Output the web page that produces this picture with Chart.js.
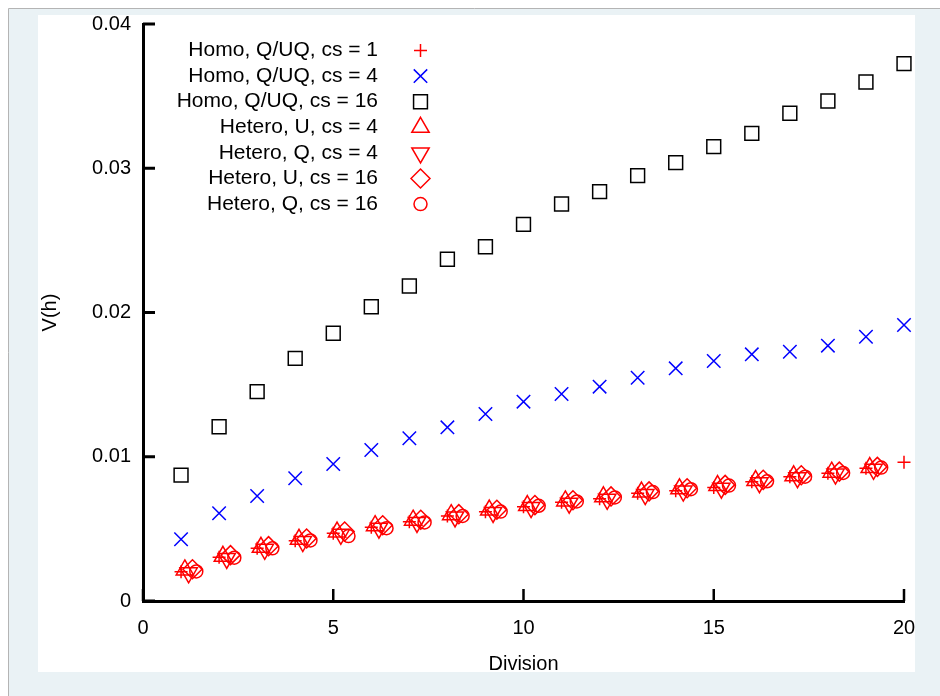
<!DOCTYPE html>
<html>
<head>
<meta charset="utf-8">
<script src="https://cdn.jsdelivr.net/npm/chart.js@4/dist/chart.umd.min.js"></script>
<style>
  html, body { margin: 0; padding: 0; background: #fff; }
  #wrap { width: 940px; height: 696px; }
</style>
</head>
<body>
<div id="wrap"><canvas id="chart" width="940" height="696"></canvas></div>
<script>
"use strict";

// divisions 1..20
const divisions = [1, 2, 3, 4, 5, 6, 7, 8, 9, 10, 11, 12, 13, 14, 15, 16, 17, 18, 19, 20];
const heteroDivisions = [1, 2, 3, 4, 5, 6, 7, 8, 9, 10, 11, 12, 13, 14, 15, 16, 17, 18, 19];

const homoCs1 = [0.00203, 0.00303, 0.00365, 0.00418, 0.00469, 0.00511, 0.00550, 0.00589, 0.00619, 0.00654,
  0.00684, 0.00709, 0.00747, 0.00765, 0.00786, 0.00827, 0.00862, 0.00885, 0.00920, 0.00962];
const homoCs4 = [0.00428, 0.00608, 0.00728, 0.00851, 0.00950, 0.01047, 0.01128, 0.01204, 0.01296, 0.01382,
  0.01435, 0.01486, 0.01548, 0.01613, 0.01664, 0.01710, 0.01728, 0.01770, 0.01832, 0.01913];
const homoCs16 = [0.00873, 0.01208, 0.01451, 0.01682, 0.01856, 0.02040, 0.02184, 0.02369, 0.02456, 0.02611,
  0.02752, 0.02838, 0.02949, 0.03039, 0.03150, 0.03242, 0.03381, 0.03466, 0.03598, 0.03725];
const heteroUCs4 = [0.00215, 0.00310, 0.00372, 0.00428, 0.00478, 0.00522, 0.00560, 0.00598, 0.00630, 0.00662,
  0.00694, 0.00722, 0.00755, 0.00778, 0.00800, 0.00835, 0.00868, 0.00893, 0.00925];
const heteroQCs4 = [0.00195, 0.00295, 0.00358, 0.00412, 0.00462, 0.00505, 0.00545, 0.00583, 0.00614, 0.00648,
  0.00678, 0.00705, 0.00738, 0.00762, 0.00782, 0.00820, 0.00855, 0.00880, 0.00913];
const heteroUCs16 = [0.00220, 0.00318, 0.00380, 0.00433, 0.00482, 0.00525, 0.00563, 0.00602, 0.00633, 0.00665,
  0.00698, 0.00725, 0.00760, 0.00782, 0.00805, 0.00840, 0.00872, 0.00897, 0.00930];
const heteroQCs16 = [0.00205, 0.00300, 0.00365, 0.00420, 0.00450, 0.00505, 0.00545, 0.00590, 0.00620, 0.00660,
  0.00690, 0.00718, 0.00755, 0.00775, 0.00800, 0.00830, 0.00862, 0.00888, 0.00925];

// small sideways shift the hetero runs were plotted with
const heteroShift = [0.1, 0.2, 0.3, 0.4];

const xTickLabels = ["0", "5", "10", "15", "20"];
const yTickLabels = ["0", "0.01", "0.02", "0.03", "0.04"];

const FONT = '"Liberation Sans", Arial, sans-serif';

function points(xs, ys, shift) {
  return ys.map((v, i) => ({ x: xs[i] + (shift || 0), y: v }));
}

function series(label, data, style, color, radius, rotation) {
  return {
    label: label,
    data: data,
    showLine: false,
    clip: false,
    pointStyle: style,
    pointRotation: rotation || 0,
    pointRadius: radius,
    pointHoverRadius: radius,
    pointBorderWidth: 1.5,
    pointBorderColor: color,
    borderColor: color,
    pointBackgroundColor: "rgba(0,0,0,0)",
    backgroundColor: "rgba(0,0,0,0)",
  };
}

const backdrop = {
  id: "backdrop",
  beforeDraw(chart) {
    const ctx = chart.ctx;
    ctx.save();
    ctx.fillStyle = "#ffffff";
    ctx.fillRect(0, 0, 940, 696);
    ctx.fillStyle = "#eaf2f5";
    ctx.fillRect(9, 9, 931, 687);
    ctx.strokeStyle = "#b4b4b4";
    ctx.lineWidth = 1;
    ctx.beginPath();
    ctx.moveTo(8.5, 696);
    ctx.lineTo(8.5, 8.5);
    ctx.lineTo(940, 8.5);
    ctx.stroke();
    ctx.fillStyle = "#ffffff";
    ctx.fillRect(38, 15, 877, 657);
    ctx.restore();
  },
};

const inwardTicks = {
  id: "inwardTicks",
  afterDatasetsDraw(chart) {
    const { ctx, chartArea } = chart;
    const xs = chart.scales.x;
    const ys = chart.scales.y;
    ctx.save();
    ctx.strokeStyle = "#000";
    ctx.lineWidth = 3;
    ctx.beginPath();
    ys.ticks.forEach((t) => {
      const py = ys.getPixelForValue(t.value);
      ctx.moveTo(chartArea.left, py);
      ctx.lineTo(chartArea.left + 12, py);
    });
    ctx.stroke();
    ctx.lineWidth = 2.5;
    ctx.beginPath();
    xs.ticks.forEach((t) => {
      const px = xs.getPixelForValue(t.value);
      ctx.moveTo(px, chartArea.bottom);
      ctx.lineTo(px, chartArea.bottom - 12);
    });
    ctx.stroke();
    ctx.restore();
  },
};

const keyBox = {
  id: "keyBox",
  afterDraw(chart) {
    const ctx = chart.ctx;
    ctx.save();
    ctx.font = "21px " + FONT;
    ctx.textAlign = "right";
    ctx.textBaseline = "middle";
    chart.data.datasets.forEach((ds, i) => {
      const yy = 50.5 + i * 25.6;
      ctx.fillStyle = "#000";
      ctx.fillText(ds.label, 378, yy);
      ctx.strokeStyle = ds.pointBorderColor;
      ctx.fillStyle = "rgba(0,0,0,0)";
      ctx.lineWidth = ds.pointBorderWidth;
      Chart.helpers.drawPoint(ctx, {
        pointStyle: ds.pointStyle,
        rotation: ds.pointRotation,
        radius: ds.pointRadius,
        borderWidth: ds.pointBorderWidth,
      }, 420.5, yy);
    });
    ctx.restore();
  },
};

new Chart(document.getElementById("chart"), {
  type: "scatter",
  data: {
    datasets: [
      series("Homo, Q/UQ, cs = 1", points(divisions, homoCs1), "cross", "#ff0000", 6.5),
      series("Homo, Q/UQ, cs = 4", points(divisions, homoCs4), "crossRot", "#0000ff", 9.5),
      series("Homo, Q/UQ, cs = 16", points(divisions, homoCs16), "rect", "#000000", 9.8),
      series("Hetero, U, cs = 4", points(heteroDivisions, heteroUCs4, heteroShift[0]), "triangle", "#ff0000", 10),
      series("Hetero, Q, cs = 4", points(heteroDivisions, heteroQCs4, heteroShift[1]), "triangle", "#ff0000", 10, 180),
      series("Hetero, U, cs = 16", points(heteroDivisions, heteroUCs16, heteroShift[2]), "rectRot", "#ff0000", 9.5),
      series("Hetero, Q, cs = 16", points(heteroDivisions, heteroQCs16, heteroShift[3]), "circle", "#ff0000", 6.5),
    ],
  },
  options: {
    responsive: false,
    animation: false,
    events: [],
    layout: { padding: { left: 38, right: 36, top: 24, bottom: 20 } },
    plugins: {
      legend: { display: false },
      tooltip: { enabled: false },
    },
    scales: {
      x: {
        type: "linear",
        min: 0,
        max: 20,
        afterFit: (scale) => { scale.height = 75; },
        ticks: {
          stepSize: 5,
          padding: 15,
          color: "#000",
          font: { family: FONT, size: 20 },
          callback: (v) => xTickLabels[Math.round(v / 5)],
        },
        grid: { display: true, drawOnChartArea: false, drawTicks: false },
        border: { display: true, color: "#000", width: 3 },
        title: {
          display: true,
          text: "Division",
          color: "#000",
          font: { family: FONT, size: 20 },
          padding: { top: 0, bottom: 0 },
        },
      },
      y: {
        type: "linear",
        min: 0,
        max: 0.04,
        afterFit: (scale) => { scale.width = 105; },
        ticks: {
          stepSize: 0.01,
          padding: 12,
          color: "#000",
          font: { family: FONT, size: 20 },
          callback: (v) => yTickLabels[Math.round(v / 0.01)],
        },
        grid: { display: true, drawOnChartArea: false, drawTicks: false },
        border: { display: true, color: "#000", width: 3 },
        title: {
          display: true,
          text: "V(h)",
          color: "#000",
          font: { family: FONT, size: 20 },
          padding: { top: 0, bottom: 0 },
        },
      },
    },
  },
  plugins: [backdrop, inwardTicks, keyBox],
});
</script>
</body>
</html>
